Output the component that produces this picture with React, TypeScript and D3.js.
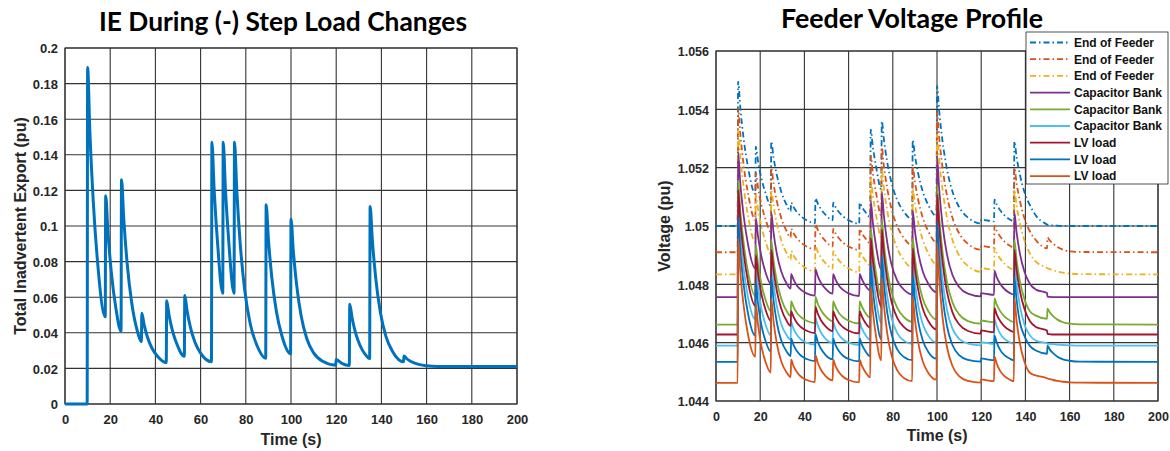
import React, { useEffect, useRef } from 'react';
import * as d3 from 'd3';

// sample times (s), shared by both plots
const TIME = [
  0, 9.8,
  10, 11, 12.5, 14.5, 17.8,
  18, 19, 20.5, 22.5, 24.8,
  25, 26, 27.5, 29.5, 32, 33.8,
  34, 35, 36.5, 38.5, 41, 44.8,
  45, 46, 47.5, 49.5, 52.8,
  53, 54, 55.5, 57.5, 60, 64.8,
  65, 66, 67.5, 69.8,
  70, 71, 72.5, 74.8,
  75, 76, 77.5, 79.5, 82, 85, 88.8,
  89, 90, 91.5, 93.5, 96, 99.8,
  100, 101, 102.5, 104.5, 107, 110, 114, 119.8,
  120, 122.5, 125.8,
  126, 127, 128.5, 130.5, 133, 134.8,
  135, 136, 137.5, 139.5, 142, 145, 149.8,
  150, 151, 152.5, 154.5, 157, 160, 165, 200,
];

// total inadvertent export (pu)
const IE = [
  0, 0,
  0.189, 0.153, 0.114, 0.0785, 0.049,
  0.117, 0.0967, 0.074, 0.054, 0.041,
  0.126, 0.104, 0.079, 0.057, 0.041, 0.035,
  0.051, 0.0446, 0.0375, 0.0313, 0.0267, 0.0233,
  0.058, 0.0502, 0.0414, 0.0337, 0.0268,
  0.061, 0.0525, 0.0431, 0.0347, 0.0286, 0.0238,
  0.147, 0.1203, 0.0905, 0.0622,
  0.147, 0.1203, 0.0905, 0.0622,
  0.147, 0.1203, 0.0905, 0.0642, 0.0448, 0.0327, 0.0257,
  0.112, 0.0927, 0.0712, 0.0522, 0.0382, 0.0283,
  0.104, 0.0864, 0.0668, 0.0494, 0.0367, 0.0287, 0.024, 0.0218,
  0.025, 0.0228, 0.0216,
  0.056, 0.0486, 0.0403, 0.033, 0.0276, 0.0255,
  0.111, 0.0919, 0.0706, 0.0518, 0.038, 0.0293, 0.0237,
  0.027, 0.0257, 0.0243, 0.0231, 0.0221, 0.0215, 0.0211, 0.021,
];

// voltages (pu)
const EOF_1 = [
  1.05000, 1.05000,
  1.05495, 1.05405, 1.05300, 1.05201, 1.05110,
  1.05272, 1.05223, 1.05165, 1.05111, 1.05070,
  1.05290, 1.05237, 1.05176, 1.05118, 1.05072, 1.05050,
  1.05080, 1.05066, 1.05049, 1.05033, 1.05020, 1.05009,
  1.05095, 1.05078, 1.05058, 1.05039, 1.05020,
  1.05080, 1.05066, 1.05049, 1.05033, 1.05020, 1.05008,
  1.05080, 1.05066, 1.05049, 1.05031,
  1.05330, 1.05270, 1.05200, 1.05126,
  1.05360, 1.05295, 1.05218, 1.05146, 1.05089, 1.05049, 1.05023,
  1.05295, 1.05242, 1.05179, 1.05120, 1.05073, 1.05034,
  1.05480, 1.05393, 1.05291, 1.05195, 1.05118, 1.05065, 1.05029, 1.05009,
  1.05022, 1.05019, 1.05016,
  1.05090, 1.05074, 1.05055, 1.05037, 1.05022, 1.05016,
  1.05290, 1.05237, 1.05176, 1.05118, 1.05072, 1.05033, 1.05005,
  1.05004, 1.05003, 1.05002, 1.05001, 1.05000, 1.05000, 1.05000, 1.05000,
];
const EOF_2 = [
  1.04910, 1.04910,
  1.05405, 1.05315, 1.05210, 1.05111, 1.05020,
  1.05182, 1.05133, 1.05075, 1.05021, 1.04980,
  1.05200, 1.05147, 1.05086, 1.05028, 1.04982, 1.04960,
  1.04990, 1.04976, 1.04959, 1.04943, 1.04930, 1.04919,
  1.05005, 1.04988, 1.04968, 1.04949, 1.04930,
  1.04990, 1.04976, 1.04959, 1.04943, 1.04930, 1.04918,
  1.04990, 1.04976, 1.04959, 1.04941,
  1.05240, 1.05180, 1.05110, 1.05036,
  1.05270, 1.05205, 1.05128, 1.05056, 1.04999, 1.04959, 1.04933,
  1.05205, 1.05152, 1.05089, 1.05030, 1.04983, 1.04944,
  1.05390, 1.05303, 1.05201, 1.05105, 1.05028, 1.04975, 1.04939, 1.04919,
  1.04932, 1.04929, 1.04926,
  1.05000, 1.04984, 1.04965, 1.04947, 1.04932, 1.04926,
  1.05200, 1.05147, 1.05086, 1.05028, 1.04982, 1.04949, 1.04924,
  1.04960, 1.04951, 1.04940, 1.04928, 1.04919, 1.04913, 1.04911, 1.04910,
];
const EOF_3 = [
  1.04834, 1.04834,
  1.05329, 1.05239, 1.05134, 1.05035, 1.04944,
  1.05106, 1.05057, 1.04999, 1.04945, 1.04904,
  1.05124, 1.05071, 1.05010, 1.04952, 1.04906, 1.04884,
  1.04914, 1.04900, 1.04883, 1.04867, 1.04854, 1.04843,
  1.04929, 1.04912, 1.04892, 1.04873, 1.04854,
  1.04914, 1.04900, 1.04883, 1.04867, 1.04854, 1.04842,
  1.04914, 1.04900, 1.04883, 1.04865,
  1.05164, 1.05104, 1.05034, 1.04960,
  1.05194, 1.05129, 1.05052, 1.04980, 1.04923, 1.04883, 1.04857,
  1.05129, 1.05076, 1.05013, 1.04954, 1.04907, 1.04868,
  1.05314, 1.05227, 1.05125, 1.05029, 1.04952, 1.04899, 1.04863, 1.04843,
  1.04856, 1.04853, 1.04850,
  1.04924, 1.04908, 1.04889, 1.04871, 1.04856, 1.04850,
  1.05124, 1.05071, 1.05010, 1.04952, 1.04906, 1.04876, 1.04856,
  1.04855, 1.04852, 1.04848, 1.04844, 1.04840, 1.04837, 1.04835, 1.04834,
];
const CAP_1 = [
  1.04756, 1.04756,
  1.05251, 1.05146, 1.05036, 1.04936, 1.04854,
  1.05028, 1.04965, 1.04897, 1.04839, 1.04802,
  1.05046, 1.04979, 1.04906, 1.04845, 1.04802, 1.04785,
  1.04836, 1.04818, 1.04797, 1.04781, 1.04769, 1.04761,
  1.04851, 1.04829, 1.04805, 1.04785, 1.04768,
  1.04836, 1.04818, 1.04797, 1.04781, 1.04769, 1.04760,
  1.04836, 1.04818, 1.04797, 1.04779,
  1.05086, 1.05010, 1.04927, 1.04849,
  1.05116, 1.05033, 1.04943, 1.04866, 1.04813, 1.04782, 1.04766,
  1.05051, 1.04983, 1.04909, 1.04846, 1.04803, 1.04773,
  1.05236, 1.05125, 1.05005, 1.04903, 1.04832, 1.04791, 1.04768, 1.04759,
  1.04770, 1.04767, 1.04764,
  1.04846, 1.04825, 1.04803, 1.04784, 1.04770, 1.04765,
  1.05046, 1.04979, 1.04906, 1.04845, 1.04802, 1.04781, 1.04770,
  1.04758, 1.04757, 1.04756, 1.04756, 1.04756, 1.04756, 1.04756, 1.04756,
];
const CAP_2 = [
  1.04662, 1.04662,
  1.05157, 1.05052, 1.04942, 1.04842, 1.04760,
  1.04934, 1.04871, 1.04803, 1.04745, 1.04708,
  1.04952, 1.04885, 1.04812, 1.04751, 1.04708, 1.04691,
  1.04742, 1.04724, 1.04703, 1.04687, 1.04675, 1.04667,
  1.04757, 1.04735, 1.04711, 1.04691, 1.04674,
  1.04742, 1.04724, 1.04703, 1.04687, 1.04675, 1.04666,
  1.04742, 1.04724, 1.04703, 1.04685,
  1.04992, 1.04916, 1.04833, 1.04755,
  1.05022, 1.04939, 1.04849, 1.04772, 1.04719, 1.04688, 1.04672,
  1.04957, 1.04889, 1.04815, 1.04752, 1.04709, 1.04679,
  1.05142, 1.05031, 1.04911, 1.04809, 1.04738, 1.04697, 1.04674, 1.04665,
  1.04676, 1.04673, 1.04670,
  1.04752, 1.04731, 1.04709, 1.04690, 1.04676, 1.04671,
  1.04952, 1.04885, 1.04812, 1.04751, 1.04708, 1.04692, 1.04682,
  1.04717, 1.04704, 1.04691, 1.04679, 1.04670, 1.04665, 1.04663, 1.04662,
];
const CAP_3 = [
  1.04590, 1.04590,
  1.05085, 1.04970, 1.04855, 1.04755, 1.04680,
  1.04862, 1.04791, 1.04718, 1.04660, 1.04625,
  1.04880, 1.04804, 1.04726, 1.04664, 1.04625, 1.04610,
  1.04670, 1.04649, 1.04628, 1.04611, 1.04600, 1.04593,
  1.04685, 1.04660, 1.04635, 1.04614, 1.04599,
  1.04670, 1.04649, 1.04628, 1.04611, 1.04600, 1.04592,
  1.04670, 1.04649, 1.04628, 1.04609,
  1.04920, 1.04834, 1.04745, 1.04667,
  1.04950, 1.04856, 1.04759, 1.04682, 1.04633, 1.04607, 1.04596,
  1.04885, 1.04808, 1.04728, 1.04665, 1.04625, 1.04601,
  1.05070, 1.04945, 1.04815, 1.04713, 1.04648, 1.04613, 1.04597, 1.04591,
  1.04602, 1.04599, 1.04596,
  1.04680, 1.04657, 1.04632, 1.04613, 1.04601, 1.04596,
  1.04880, 1.04804, 1.04726, 1.04664, 1.04625, 1.04606, 1.04598,
  1.04597, 1.04596, 1.04595, 1.04593, 1.04592, 1.04591, 1.04590, 1.04590,
];
const LV_1 = [
  1.04628, 1.04628,
  1.05123, 1.05018, 1.04908, 1.04808, 1.04726,
  1.04900, 1.04837, 1.04769, 1.04711, 1.04674,
  1.04918, 1.04851, 1.04778, 1.04717, 1.04674, 1.04657,
  1.04708, 1.04690, 1.04669, 1.04653, 1.04641, 1.04633,
  1.04723, 1.04701, 1.04677, 1.04657, 1.04640,
  1.04708, 1.04690, 1.04669, 1.04653, 1.04641, 1.04632,
  1.04708, 1.04690, 1.04669, 1.04651,
  1.04958, 1.04882, 1.04799, 1.04721,
  1.04988, 1.04905, 1.04815, 1.04738, 1.04685, 1.04654, 1.04638,
  1.04923, 1.04855, 1.04781, 1.04718, 1.04675, 1.04645,
  1.05108, 1.04997, 1.04877, 1.04775, 1.04704, 1.04663, 1.04640, 1.04631,
  1.04642, 1.04639, 1.04636,
  1.04718, 1.04697, 1.04675, 1.04656, 1.04642, 1.04637,
  1.04918, 1.04851, 1.04778, 1.04717, 1.04674, 1.04653, 1.04642,
  1.04630, 1.04629, 1.04628, 1.04628, 1.04628, 1.04628, 1.04628, 1.04628,
];
const LV_2 = [
  1.04534, 1.04534,
  1.05029, 1.04914, 1.04799, 1.04699, 1.04624,
  1.04806, 1.04735, 1.04662, 1.04604, 1.04569,
  1.04824, 1.04748, 1.04670, 1.04608, 1.04569, 1.04554,
  1.04614, 1.04593, 1.04572, 1.04555, 1.04544, 1.04537,
  1.04629, 1.04604, 1.04579, 1.04558, 1.04543,
  1.04614, 1.04593, 1.04572, 1.04555, 1.04544, 1.04536,
  1.04614, 1.04593, 1.04572, 1.04553,
  1.04864, 1.04778, 1.04689, 1.04611,
  1.04894, 1.04800, 1.04703, 1.04626, 1.04577, 1.04551, 1.04540,
  1.04829, 1.04752, 1.04672, 1.04609, 1.04569, 1.04545,
  1.05014, 1.04889, 1.04759, 1.04657, 1.04592, 1.04557, 1.04541, 1.04535,
  1.04546, 1.04543, 1.04540,
  1.04624, 1.04601, 1.04576, 1.04557, 1.04545, 1.04540,
  1.04824, 1.04748, 1.04670, 1.04624, 1.04589, 1.04572, 1.04562,
  1.04590, 1.04577, 1.04564, 1.04552, 1.04543, 1.04538, 1.04535, 1.04534,
];
const LV_3 = [
  1.04462, 1.04462,
  1.04957, 1.04842, 1.04727, 1.04627, 1.04552,
  1.04734, 1.04663, 1.04590, 1.04532, 1.04497,
  1.04752, 1.04676, 1.04598, 1.04536, 1.04497, 1.04482,
  1.04542, 1.04521, 1.04500, 1.04483, 1.04472, 1.04465,
  1.04557, 1.04532, 1.04507, 1.04486, 1.04471,
  1.04542, 1.04521, 1.04500, 1.04483, 1.04472, 1.04464,
  1.04542, 1.04521, 1.04500, 1.04481,
  1.04792, 1.04706, 1.04617, 1.04539,
  1.04822, 1.04728, 1.04631, 1.04554, 1.04505, 1.04479, 1.04468,
  1.04757, 1.04680, 1.04600, 1.04537, 1.04497, 1.04473,
  1.04942, 1.04817, 1.04687, 1.04585, 1.04520, 1.04485, 1.04469, 1.04463,
  1.04474, 1.04471, 1.04468,
  1.04552, 1.04529, 1.04504, 1.04485, 1.04473, 1.04468,
  1.04752, 1.04676, 1.04598, 1.04536, 1.04497, 1.04487, 1.04478,
  1.04477, 1.04475, 1.04472, 1.04469, 1.04466, 1.04464, 1.04463, 1.04462,
];

const VOLTAGES = [EOF_1, EOF_2, EOF_3, CAP_1, CAP_2, CAP_3, LV_1, LV_2, LV_3];
const NAMES = ['End of Feeder', 'End of Feeder', 'End of Feeder', 'Capacitor Bank', 'Capacitor Bank',
  'Capacitor Bank', 'LV load', 'LV load', 'LV load'];

const X_TICKS = [0, 20, 40, 60, 80, 100, 120, 140, 160, 180, 200];
const IE_TICKS = [0, 0.02, 0.04, 0.06, 0.08, 0.1, 0.12, 0.14, 0.16, 0.18, 0.2];
const V_TICKS = [1.044, 1.046, 1.048, 1.05, 1.052, 1.054, 1.056];

// matlab default line colours
const COLORS = ['#0072BD', '#D95319', '#EDB120', '#7E2F8E', '#77AC30', '#4DBEEE', '#A2142F', '#0072BD', '#D95319'];
const DASHED = [true, true, true, false, false, false, false, false, false];

const W = 1170, H = 451;
const INK = '#262626';
const FONT = '"Liberation Sans", Arial, Helvetica, sans-serif';
const TITLE_FONT = 'Lato, "Open Sans", sans-serif';

function frame(g, x, y, yTicks, yFmt, fs) {
  const [xl, xr] = x.range();
  const [yb, yt] = y.range();

  // grid, drawn dark like the original
  const grid = g.append('g').attr('stroke', '#1e1e1e').attr('stroke-width', 1.1).attr('opacity', 0.9);
  grid.append('g').selectAll('line').data(X_TICKS).join('line')
    .attr('x1', d => x(d)).attr('x2', d => x(d)).attr('y1', yb).attr('y2', yt);
  grid.append('g').selectAll('line').data(yTicks).join('line')
    .attr('x1', xl).attr('x2', xr).attr('y1', d => y(d)).attr('y2', d => y(d));
  grid.append('rect').attr('x', xl).attr('y', yt).attr('width', xr - xl).attr('height', yb - yt).attr('fill', 'none');

  const xa = g.append('g').attr('transform', 'translate(0,' + yb + ')')
    .call(d3.axisBottom(x).tickValues(X_TICKS).tickSize(0).tickPadding(11));
  xa.select('.domain').remove();
  xa.attr('font-family', FONT).attr('font-size', fs).attr('font-weight', 'bold');
  xa.selectAll('text').attr('fill', INK);

  const ya = g.append('g').attr('transform', 'translate(' + xl + ',0)')
    .call(d3.axisLeft(y).tickValues(yTicks).tickFormat(yFmt).tickSize(0).tickPadding(7));
  ya.select('.domain').remove();
  ya.attr('font-family', FONT).attr('font-size', fs).attr('font-weight', 'bold');
  ya.selectAll('text').attr('fill', INK).attr('dy', '0.38em');
}

function label(g, txt, x, y, rotate) {
  g.append('text')
    .attr('transform', 'translate(' + x + ',' + y + ')' + (rotate ? ' rotate(-90)' : ''))
    .attr('text-anchor', 'middle')
    .attr('font-family', FONT).attr('font-size', 16).attr('font-weight', 'bold')
    .attr('fill', INK)
    .text(txt);
}

function title(g, txt, x, y, len) {
  g.append('text')
    .attr('x', x).attr('y', y)
    .attr('text-anchor', 'middle')
    .attr('font-family', TITLE_FONT).attr('font-size', 26).attr('font-weight', 'bold')
    .attr('fill', '#000')
    .attr('textLength', len).attr('lengthAdjust', 'spacingAndGlyphs')
    .text(txt);
}

function drawIE(g) {
  const x = d3.scaleLinear().domain([0, 200]).range([65, 517]);
  const y = d3.scaleLinear().domain([0, 0.2]).range([404, 48]);

  frame(g, x, y, IE_TICKS, d => String(+(+d).toFixed(2)), 13);

  const line = d3.line().x(d => x(d[0])).y(d => y(d[1])).curve(d3.curveMonotoneX);
  g.append('path')
    .datum(TIME.map((t, i) => [t, IE[i]]))
    .attr('d', line)
    .attr('fill', 'none')
    .attr('stroke', '#0072BD')
    .attr('stroke-width', 3)
    .attr('stroke-linejoin', 'round');

  title(g, 'IE During (-) Step Load Changes', 283, 31, 368);
  label(g, 'Time (s)', 291, 445, false);
  label(g, 'Total Inadvertent Export (pu)', 26, 226, true);
}

function drawVoltage(g) {
  const x = d3.scaleLinear().domain([0, 200]).range([716, 1158]);
  const y = d3.scaleLinear().domain([1.044, 1.056]).range([401, 51]);

  frame(g, x, y, V_TICKS, d => String(+(+d).toFixed(3)), 12.5);

  const line = d3.line().x(d => x(d[0])).y(d => y(d[1])).curve(d3.curveMonotoneX);
  VOLTAGES.forEach((vals, k) => {
    g.append('path')
      .datum(TIME.map((t, i) => [t, vals[i]]))
      .attr('d', line)
      .attr('fill', 'none')
      .attr('stroke', COLORS[k])
      .attr('stroke-width', 1.8)
      .attr('stroke-dasharray', DASHED[k] ? '6,3,1.5,3' : null);
  });

  title(g, 'Feeder Voltage Profile', 912, 28, 262);
  label(g, 'Time (s)', 937, 441, false);
  label(g, 'Voltage (pu)', 670, 226, true);

  // legend
  const lg = g.append('g').attr('transform', 'translate(1026,32)');
  lg.append('rect').attr('width', 142).attr('height', 152)
    .attr('fill', '#fff').attr('stroke', INK).attr('stroke-width', 0.8);
  const item = lg.selectAll('g.item').data(NAMES).join('g')
    .attr('class', 'item')
    .attr('transform', (d, i) => 'translate(0,' + (10.5 + i * 16.7) + ')');
  item.append('line')
    .attr('x1', 4).attr('x2', 44)
    .attr('stroke', (d, i) => COLORS[i])
    .attr('stroke-width', 1.8)
    .attr('stroke-dasharray', (d, i) => DASHED[i] ? '6,3,1.5,3' : null);
  item.append('text')
    .attr('x', 48).attr('dy', '0.36em')
    .attr('font-family', FONT).attr('font-size', 12).attr('font-weight', 'bold')
    .attr('fill', '#111')
    .text(d => d);
}

export default function App() {
  const chart = useRef(null);

  useEffect(function () {
    if (!chart.current) return;
    const svg = d3.select(chart.current);
    svg.selectAll('*').remove();
    svg.append('rect').attr('width', W).attr('height', H).attr('fill', '#fff');
    drawIE(svg.append('g'));
    drawVoltage(svg.append('g'));
  }, []);

  return (
    <svg ref={chart} width={W} height={H}
      style={{ position: 'absolute', left: 0, top: 0, display: 'block' }} />
  );
}
